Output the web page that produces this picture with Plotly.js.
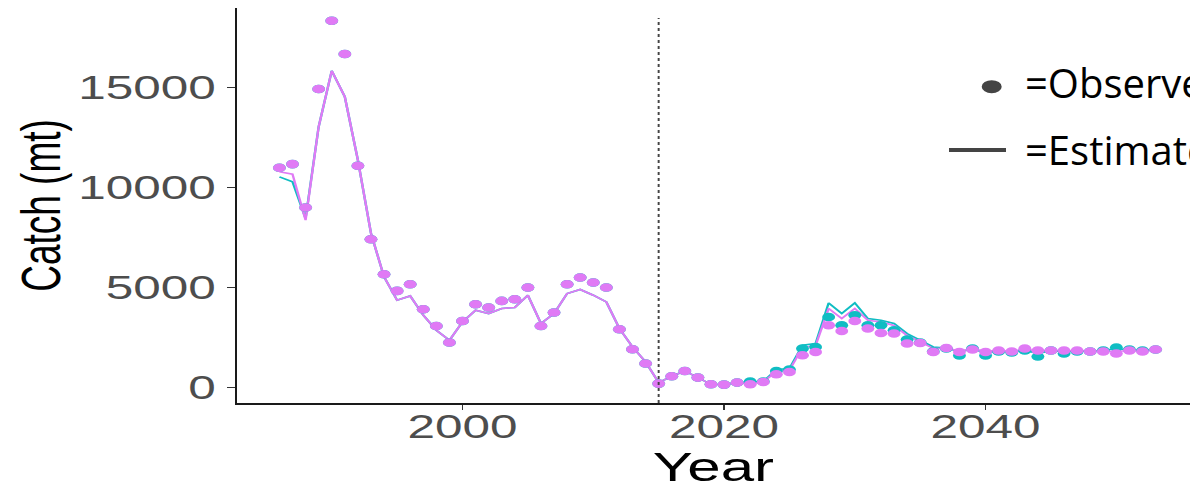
<!DOCTYPE html>
<html><head><meta charset="utf-8">
<script src="https://cdn.plot.ly/plotly-3.0.1.min.js"></script>
<style>
html,body{margin:0;padding:0;overflow:hidden;background:#fff;width:1190px;height:484px;}
#chart{position:absolute;left:0;top:0;width:794px;height:500px;transform:scaleX(1.4987);transform-origin:0 0;}
#legend{position:absolute;left:0;top:0;width:1190px;height:484px;pointer-events:none;}
</style></head><body>
<div id="chart"></div><div id="legend"></div>
<script>
// ---- data ----
const years = [1986,1987,1988,1989,1990,1991,1992,1993,1994,1995,1996,1997,1998,1999,2000,2001,2002,2003,2004,2005,2006,2007,2008,2009,2010,2011,2012,2013,2014,2015,2016,2017,2018,2019,2020,2021,2022,2023,2024,2025,2026,2027,2028,2029,2030,2031,2032,2033,2034,2035,2036,2037,2038,2039,2040,2041,2042,2043,2044,2045,2046,2047,2048,2049,2050,2051,2052,2053];

const observedA = [10980,11165,9000,14915,18330,16665,11080,7415,5665,4830,5165,3915,3080,2250,3330,4165,4000,4330,4415,5000,3080,3750,5165,5500,5250,5000,2915,1915,1200,200,565,830,500,165,150,250,165,280,665,780,1615,1780,3115,2830,3330,2950,2730,2700,2200,2230,1780,1980,1780,1900,1780,1850,1800,1950,1850,1850,1850,1850,1800,1800,1700,1850,1800,1900];

const observedB = [10980,11165,9000,14915,18330,16665,11080,7415,5665,4830,5165,3915,3080,2250,3330,4165,4000,4330,4415,5000,3080,3750,5165,5500,5250,5000,2915,1915,1200,200,565,830,500,165,150,250,300,300,830,900,1950,2030,3530,3115,3615,3115,3115,2865,2400,2250,1800,1950,1600,1950,1600,1800,1750,1850,1550,1850,1700,1800,1800,1850,2000,1900,1850,1900];

const estimatedA = [10780,10665,8365,13030,15830,14530,11365,7715,5530,4365,4580,3615,2865,2365,3280,3865,3700,3950,4000,4615,3200,3700,4700,4900,4615,4280,2950,2030,1280,250,565,830,500,165,150,250,200,280,800,870,2000,2100,3950,3450,3950,3365,3280,3100,2600,2300,1950,1950,1850,1900,1850,1850,1820,1900,1850,1850,1850,1850,1820,1820,1800,1850,1820,1880];

const estimatedB = [10530,10280,8450,13030,15830,14530,11365,7715,5530,4365,4580,3615,2865,2365,3280,3865,3700,3950,4000,4615,3200,3700,4700,4900,4615,4280,2950,2030,1280,250,565,830,500,165,150,250,280,300,900,950,2115,2200,4230,3700,4230,3450,3365,3200,2700,2365,2030,1980,1800,1920,1750,1820,1780,1870,1700,1850,1780,1820,1820,1850,1950,1880,1850,1900];

const refYear = [2015];
const yTicks = [0,5000,10000,15000];
const xTicks = [2000,2020,2040];
const legendLabels = ["=Observed","=Estimated"];

// ---- styling ----
const SX = 1190/794;
const pink = '#E07AF5';
const teal = '#10BDC3';
const W = 794, H = 500;
const L = 237/SX;
const FONT = 'Liberation Sans, Arial, sans-serif';

const traces = [
  {x: years, y: estimatedB, type:'scatter', mode:'lines', line:{color:teal, width:1.6}, hoverinfo:'skip'},
  {x: years, y: estimatedA, type:'scatter', mode:'lines', line:{color:pink, width:1.6}, hoverinfo:'skip'},
  {x: years, y: observedB, type:'scatter', mode:'markers', marker:{color:teal, size:8.6}, hoverinfo:'skip'},
  {x: years, y: observedA, type:'scatter', mode:'markers', marker:{color:pink, size:8.6}, hoverinfo:'skip'}
];

const layout = {
  width: W, height: H,
  margin:{l:L, r:0, t:8, b:H-402.7, pad:0},
  paper_bgcolor:'#fff', plot_bgcolor:'#fff',
  showlegend:false,
  font:{family:FONT},
  xaxis:{
    range:[1982.74, 2055.63], tickvals:xTicks, ticktext:xTicks.map(String),
    showgrid:false, zeroline:false, showline:true, linecolor:'#1a1a1a', linewidth:1.5,
    ticks:'outside', ticklen:5, tickwidth:1.2, tickcolor:'#333',
    ticklabelstandoff:-11,
    tickfont:{size:33, color:'#4D4D4D', family:FONT},
    title:{text:'Year', font:{size:40, color:'#000', family:FONT}, standoff:6},
    automargin:false
  },
  yaxis:{
    range:[-770, 18965], tickvals:yTicks, ticktext:yTicks.map(String),
    showgrid:false, zeroline:false, showline:true, linecolor:'#1a1a1a', linewidth:1.5,
    ticks:'outside', ticklen:5, tickwidth:1.2, tickcolor:'#333',
    ticklabelstandoff:1,
    tickfont:{size:33, color:'#4D4D4D', family:FONT},
    title:{text:'Catch (mt)', font:{size:37, color:'#000', family:FONT}, standoff:0},
    automargin:false
  },
  shapes:[{type:'line', xref:'x', yref:'paper', x0:refYear[0], x1:refYear[0], y0:0, y1:0.975,
           line:{color:'#444', width:1.3, dash:'dot'}}]
};

Plotly.newPlot('chart', traces, layout, {staticPlot:true, displayModeBar:false});

// ---- legend overlay (not stretched) ----
const LW = 1190, LH = 484;
const px = v => v/LW, py = v => 1 - v/LH;
const LFONT = 'Open Sans, Lato, sans-serif';
const legLayout = {
  width:LW, height:LH, margin:{l:0,r:0,t:0,b:0},
  paper_bgcolor:'rgba(0,0,0,0)', plot_bgcolor:'rgba(0,0,0,0)',
  xaxis:{visible:false, range:[0,1]}, yaxis:{visible:false, range:[0,1]},
  showlegend:false,
  shapes:[
    {type:'circle', xref:'paper', yref:'paper', x0:px(981.7), x1:px(1001.7), y0:py(80.2), y1:py(93.2),
     fillcolor:'#444', line:{width:0}},
    {type:'line', xref:'paper', yref:'paper', x0:px(949), x1:px(1006), y0:py(150), y1:py(150),
     line:{color:'#444', width:4}}
  ],
  annotations:[
    {text:legendLabels[0], xref:'paper', yref:'paper', x:px(1023), y:py(82), xanchor:'left', yanchor:'middle',
     showarrow:false, font:{family:LFONT, size:40, color:'#000'}},
    {text:legendLabels[1], xref:'paper', yref:'paper', x:px(1023), y:py(150), xanchor:'left', yanchor:'middle',
     showarrow:false, font:{family:LFONT, size:40, color:'#000'}}
  ]
};
Plotly.newPlot('legend', [], legLayout, {staticPlot:true, displayModeBar:false});
</script>
</body></html>
